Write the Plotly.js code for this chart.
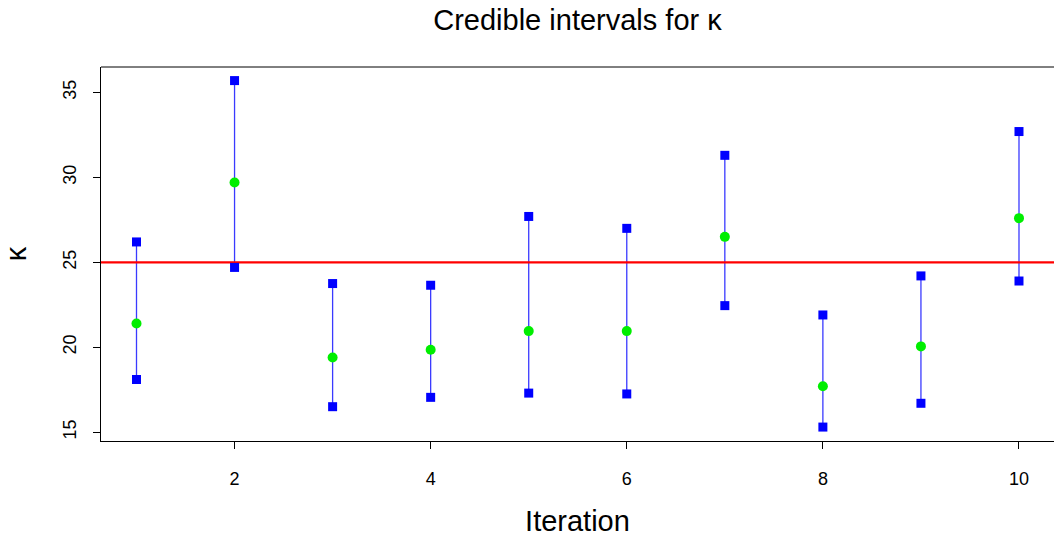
<!DOCTYPE html>
<html>
<head>
<meta charset="utf-8">
<script src="https://cdn.plot.ly/plotly-3.0.1.min.js"></script>
<style>html,body{margin:0;padding:0;background:#fff;}#chart{width:1054px;height:540px;}</style>
</head>
<body>
<div id="chart"></div>
<script>
const iterations = [1, 2, 3, 4, 5, 6, 7, 8, 9, 10];
const lower  = [18.1, 24.7, 16.5, 17.05, 17.3, 17.25, 22.45, 15.3, 16.7, 23.9];
const middle = [21.4, 29.7, 19.4, 19.85, 20.95, 20.95, 26.5, 17.7, 20.05, 27.6];
const upper  = [26.2, 35.7, 23.75, 23.65, 27.7, 27.0, 31.3, 21.9, 24.2, 32.7];
const trueKappa = 25;
const xTicks = [2, 4, 6, 8, 10];
const yTicks = [15, 20, 25, 30, 35];

const segX = [], segY = [];
iterations.forEach((it, i) => { segX.push(it, it, null); segY.push(lower[i], upper[i], null); });

const font = "Liberation Sans, Arial, Helvetica, sans-serif";
const traces = [
  {x: segX, y: segY, mode: 'lines', line: {color: '#3a3aff', width: 1.3}, hoverinfo: 'skip'},
  {x: [0, 11], y: [trueKappa, trueKappa], mode: 'lines', line: {color: '#ff0000', width: 2.2}},
  {x: iterations, y: lower, mode: 'markers', marker: {symbol: 'square', size: 9, color: '#0000ff'}},
  {x: iterations, y: upper, mode: 'markers', marker: {symbol: 'square', size: 9, color: '#0000ff'}},
  {x: iterations, y: middle, mode: 'markers', marker: {symbol: 'circle', size: 10, color: '#00ee00'}}
];

const layout = {
  width: 1054, height: 540,
  margin: {l: 101, r: 0, t: 67, b: 99},
  showlegend: false,
  paper_bgcolor: '#fff', plot_bgcolor: '#fff',
  font: {family: font, color: '#000'},
  title: {text: 'Credible intervals for κ', font: {family: font, size: 29, color: '#000'},
          x: 0.5, xref: 'paper', xanchor: 'center', y: 0.963, yref: 'container', yanchor: 'middle'},
  xaxis: {
    range: [0.638, 10.357], tickvals: xTicks, ticktext: xTicks.map(String),
    showgrid: false, zeroline: false, showline: true, linecolor: '#000', linewidth: 1,
    ticks: 'outside', ticklen: 7, tickcolor: '#000', tickwidth: 1,
    tickfont: {size: 18, family: font}, ticklabelstandoff: 14,
    title: {text: 'Iteration', font: {size: 29, family: font}, standoff: 23}
  },
  yaxis: {
    range: [14.48, 36.5], tickvals: yTicks, ticktext: yTicks.map(String),
    showgrid: false, zeroline: false, showline: true, linecolor: '#000', linewidth: 1,
    ticks: 'outside', ticklen: 7, tickcolor: '#000', tickwidth: 1, tickangle: -90,
    tickfont: {size: 18, family: font}, ticklabelstandoff: 10,
    title: {text: 'κ', font: {size: 29, family: font}, standoff: 26}
  },
  shapes: [{type: 'line', xref: 'paper', yref: 'paper', x0: 0, x1: 1, y0: 1, y1: 1, line: {color: '#000', width: 1}}]
};

Plotly.newPlot('chart', traces, layout, {displayModeBar: false, staticPlot: true});
</script>
</body>
</html>
